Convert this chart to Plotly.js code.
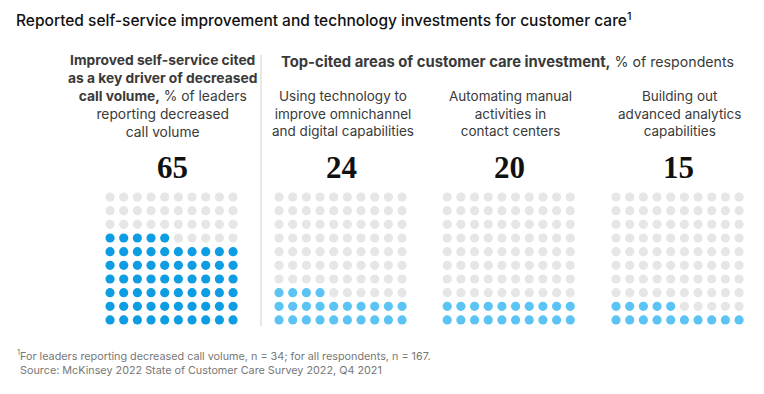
<!DOCTYPE html>
<html><head><meta charset="utf-8">
<script src="https://cdn.plot.ly/plotly-3.0.1.min.js"></script>
<style>html,body{margin:0;padding:0;background:#fff}</style>
</head><body><div id="chart" style="width:764px;height:394px"></div>
<script>
// Data
const values = [65, 24, 20, 15];
const valueLabels = ['65', '24', '20', '15'];
const categories = [
  '<b>Improved self-service cited<br>as a key driver of decreased<br>call volume,</b> % of leaders<br>reporting decreased<br>call volume',
  'Using technology to<br>improve omnichannel<br>and digital capabilities',
  'Automating manual<br>activities in<br>contact centers',
  'Building out<br>advanced analytics<br>capabilities'
];
const fillColors = ['#0e9de3', '#5cc4f4', '#5cc4f4', '#5cc4f4'];
const emptyColor = '#e6e6e6';

const W = 764, H = 394;
const leftPx = [103.2, 272.2, 440.4, 609.2];
const cell = 13.67;
const topPx = 190.2, botPx = 326.8;

const traces = [];
const layout = {
  width: W, height: H,
  margin: {l: 0, r: 0, t: 0, b: 0},
  paper_bgcolor: '#fff', plot_bgcolor: '#fff',
  showlegend: false,
  font: {family: 'Inter, Roboto, sans-serif', color: '#222'},
  title: {
    text: 'Reported self-service improvement and technology investments for customer care<sup>1</sup>',
    x: 16 / W, xanchor: 'left', xref: 'paper',
    y: 1 - 21 / H, yanchor: 'middle', yref: 'container',
    font: {family: 'Inter, Roboto, sans-serif', size: 15.5, color: '#111', weight: 500}
  },
  annotations: [], shapes: []
};

const yDomain = [1 - botPx / H, 1 - topPx / H];
layout.yaxis = {domain: yDomain, range: [-0.5, 9.5], visible: false, fixedrange: true};

values.forEach((v, i) => {
  const ax = i === 0 ? '' : String(i + 1);
  const xs = [], ys = [], cs = [];
  for (let k = 0; k < 100; k++) {
    xs.push(k % 10);
    ys.push(Math.floor(k / 10));
    cs.push(k < v ? fillColors[i] : emptyColor);
  }
  traces.push({
    type: 'scatter', mode: 'markers', x: xs, y: ys,
    xaxis: 'x' + ax, yaxis: 'y',
    marker: {size: 9.2, color: cs, line: {width: 0}},
    hoverinfo: 'skip'
  });
  const d0 = leftPx[i], d1 = leftPx[i] + cell * 10;
  layout['xaxis' + ax] = {domain: [d0 / W, d1 / W], range: [-0.5, 9.5], visible: false, fixedrange: true, anchor: 'y'};
  const cx = (d0 + d1) / 2 / W;
  layout.annotations.push({
    xref: 'paper', yref: 'paper', x: cx + 1 / W, y: 1 - 167 / H, xanchor: 'center', yanchor: 'middle',
    text: '<b>' + valueLabels[i] + '</b>', showarrow: false,
    font: {family: '"Liberation Serif", "Times New Roman", serif', size: 31, color: '#111'}
  });
  if (i === 0) {
    layout.annotations.push({
      xref: 'paper', yref: 'paper', x: 162 / W, y: 1 - 96 / H, xanchor: 'center', yanchor: 'middle',
      text: categories[i], showarrow: false, align: 'center',
      font: {size: 13.8, color: '#3a3a3a'}
    });
  } else {
    layout.annotations.push({
      xref: 'paper', yref: 'paper', x: cx + 2 / W, y: 1 - 114 / H, xanchor: 'center', yanchor: 'middle',
      text: categories[i], showarrow: false, align: 'center',
      font: {size: 13.5, color: '#3a3a3a'}
    });
  }
});

layout.annotations.push({
  xref: 'paper', yref: 'paper', x: 279 / W, y: 1 - 62 / H, xanchor: 'left', yanchor: 'middle',
  text: '<b style="font-size:14.8px">Top-cited areas of customer care investment,</b> % of respondents', showarrow: false,
  font: {size: 14.2, color: '#3a3a3a'}
});
layout.annotations.push({
  xref: 'paper', yref: 'paper', x: 15 / W, y: 1 - 362 / H, xanchor: 'left', yanchor: 'middle',
  text: '<sup>1</sup>For leaders reporting decreased call volume, n = 34; for all respondents, n = 167.<br> Source: McKinsey 2022 State of Customer Care Survey 2022, Q4 2021',
  showarrow: false, align: 'left',
  font: {size: 10.8, color: '#777'}
});
layout.shapes.push({
  type: 'line', xref: 'paper', yref: 'paper', x0: 261 / W, x1: 261 / W, y0: 1 - 55 / H, y1: 1 - 326 / H,
  line: {color: '#cfcfcf', width: 1}
});

Plotly.newPlot('chart', traces, layout, {displayModeBar: false, staticPlot: true});
</script></body></html>
